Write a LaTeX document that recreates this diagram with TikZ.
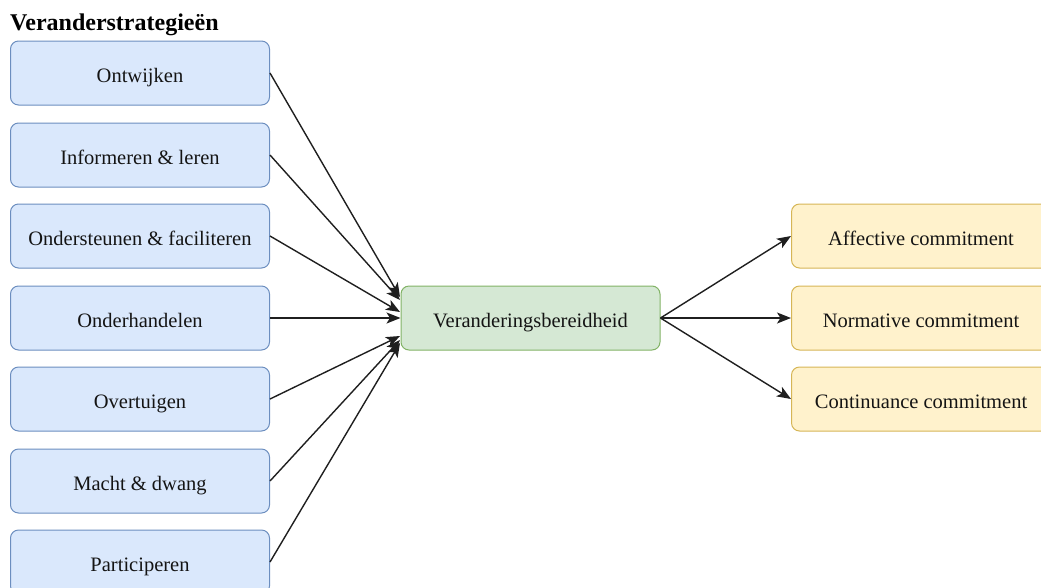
\documentclass[tikz,border=0pt]{standalone}
\usepackage{fontspec}
\setmainfont{Liberation Serif}
\usetikzlibrary{arrows.meta}
\definecolor{bfill}{HTML}{DAE8FC}\definecolor{bdraw}{HTML}{6C8EBF}
\definecolor{gfill}{HTML}{D5E8D4}\definecolor{gdraw}{HTML}{82B366}
\definecolor{yfill}{HTML}{FFF2CC}\definecolor{ydraw}{HTML}{D6B656}
\tikzset{
  box/.style={rounded corners=8pt, minimum width=259pt, minimum height=64pt, inner sep=0pt, text height=19pt, text depth=0pt, line width=1pt, font=\fontsize{20.5}{24}\selectfont, text=black!92},
  bluebox/.style={box, fill=bfill, draw=bdraw},
  greenbox/.style={box, fill=gfill, draw=gdraw},
  yellowbox/.style={box, fill=yfill, draw=ydraw},
  conn/.style={line width=1.4pt, draw=black!88, -{Stealth[length=14pt,width=11pt,inset=3.5pt]}}
}
\begin{document}
\begin{tikzpicture}[x=1pt,y=-1pt]
\useasboundingbox (0,0) rectangle (1041,587);
\clip (0,0) rectangle (1041,587);
\node[anchor=base west, inner sep=0pt, font=\fontsize{24}{28}\selectfont\bfseries] (title) at (10,30) {Veranderstrategieën};
\node[bluebox] (s1) at (140,73) {Ontwijken};
\node[bluebox] (s2) at (140,155) {Informeren \& leren};
\node[bluebox] (s3) at (140,236) {Ondersteunen \& faciliteren};
\node[bluebox] (s4) at (140,318) {Onderhandelen};
\node[bluebox] (s5) at (140,399) {Overtuigen};
\node[bluebox] (s6) at (140,481) {Macht \& dwang};
\node[bluebox] (s7) at (140,562) {Participeren};
\node[greenbox] (vb) at (530.5,318) {Veranderingsbereidheid};
\node[yellowbox] (c1) at (921,236) {Affective commitment};
\node[yellowbox] (c2) at (921,318) {Normative commitment};
\node[yellowbox] (c3) at (921,399) {Continuance commitment};
\coordinate (t1) at (400,297);
\coordinate (t2) at (400,300);
\coordinate (t3) at (400,312);
\coordinate (t5) at (400,336);
\coordinate (t6) at (400,340);
\coordinate (t7) at (400,343);
\draw[conn] (s1.east) -- (t1);
\draw[conn] (s2.east) -- (t2);
\draw[conn] (s3.east) -- (t3);
\draw[conn] (s4.east) -- (vb.west);
\draw[conn] (s5.east) -- (t5);
\draw[conn] (s6.east) -- (t6);
\draw[conn] (s7.east) -- (t7);
\draw[conn] (vb.east) -- (c1.west);
\draw[conn] (vb.east) -- (c2.west);
\draw[conn] (vb.east) -- (c3.west);
\end{tikzpicture}
\end{document}
